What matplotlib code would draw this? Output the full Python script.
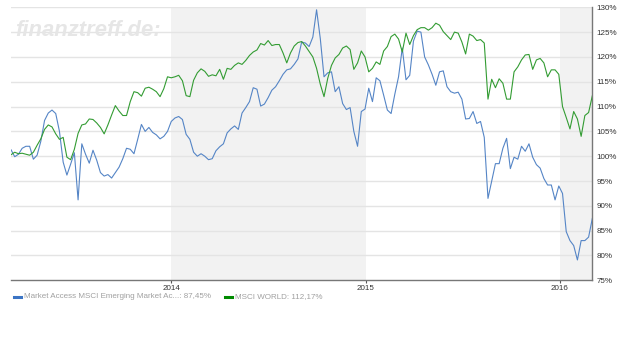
import pandas as pd
import numpy as np
import matplotlib
matplotlib.use("Agg")
import matplotlib.pyplot as plt
from matplotlib.lines import Line2D

# Weekly values in % (start = 100)
start_date = "2013-03-06"

emerging = [
    101.3, 99.9, 100.4, 101.6, 102.0, 102.0, 99.4, 100.2, 103.0, 107.2,
    108.7, 109.3, 108.6, 105.0, 98.8, 96.2, 98.4, 100.7, 91.2, 102.5,
    100.4, 98.6, 101.2, 99.2, 96.7, 96.0, 96.3, 95.6, 96.7, 97.8,
    99.5, 101.6, 101.4, 100.5, 103.4, 106.4, 105.0, 105.8, 104.8, 104.3,
    103.5, 104.0, 105.0, 107.0, 107.7, 108.0, 107.4, 104.4, 103.4, 100.8,
    100.0, 100.5, 100.0, 99.3, 99.5, 101.1, 101.9, 102.5, 104.7, 105.5,
    106.1, 105.4, 108.7, 109.8, 111.0, 113.8, 113.5, 110.1, 110.5, 111.8,
    113.3, 114.0, 115.2, 116.5, 117.4, 117.6, 118.5, 119.6, 123.0, 122.8,
    122.1, 124.0, 129.5, 123.7, 116.0, 116.8, 117.0, 113.0, 114.0, 110.6,
    109.4, 109.8, 105.0, 102.0, 109.0, 109.5, 113.7, 111.0, 115.8, 115.2,
    112.3, 109.3, 108.6, 112.5, 116.0, 121.8, 115.4, 116.3, 123.2, 125.2,
    125.0, 120.0, 118.4, 116.5, 114.3, 117.0, 117.2, 114.0, 113.0, 112.7,
    112.9, 111.5, 107.5, 107.6, 109.0, 106.6, 107.0, 103.8, 91.5, 95.0,
    98.5, 98.5, 101.6, 103.6, 97.5, 99.8, 99.4, 102.0, 101.0, 102.5,
    99.8, 98.3, 97.6, 95.5, 94.2, 94.2, 91.2, 94.0, 92.5, 84.8,
    83.0, 82.0, 79.1, 83.0, 83.0, 83.7, 87.45,
]

world = [
    100.3, 100.8, 100.5, 100.6, 100.4, 100.2, 100.8, 102.2, 103.5, 105.4,
    106.3, 105.9, 104.5, 103.4, 103.8, 99.8, 99.3, 101.4, 104.6, 106.3,
    106.5, 107.5, 107.4, 106.7, 105.8, 104.5, 106.3, 108.3, 110.2, 109.1,
    108.2, 108.2, 111.0, 113.0, 112.8, 112.1, 113.7, 113.9, 113.5, 113.0,
    112.0, 113.6, 116.0, 115.8, 116.0, 116.3, 115.2, 112.2, 112.0, 115.3,
    116.8, 117.6, 117.1, 116.1, 116.4, 116.2, 117.5, 115.5, 117.7, 117.5,
    118.3, 118.8, 118.5, 119.3, 120.3, 121.0, 121.4, 122.7, 122.4, 123.3,
    122.3, 122.5, 122.5, 120.8, 118.8, 120.8, 122.2, 122.9, 123.1, 122.2,
    121.1, 120.0, 117.7, 114.5, 112.0, 115.7, 118.3, 119.8, 120.5, 121.8,
    122.2, 121.5, 117.5, 118.8, 121.2, 120.0, 117.0, 117.7, 119.0, 118.5,
    121.2, 122.1, 124.1, 124.6, 123.6, 121.0, 124.8, 122.5, 124.3, 125.5,
    125.9, 125.9, 125.4, 125.9, 126.8, 126.4, 125.1, 124.3, 123.5, 125.0,
    124.8, 123.0, 120.6, 124.6, 124.2, 123.3, 123.5, 122.8, 111.5, 115.5,
    113.8, 115.6, 114.7, 111.5, 111.5, 117.0, 118.0, 119.4, 120.4, 120.5,
    117.5, 119.4, 119.7, 118.8, 116.0, 117.4, 117.4, 116.5, 110.0, 107.8,
    105.5, 109.0, 107.5, 104.0, 108.2, 108.8, 112.17,
]

label_em = "Market Access MSCI Emerging Market Ac...: 87,45%"
label_world = "MSCI WORLD: 112,17%"
y_ticks = [75, 80, 85, 90, 95, 100, 105, 110, 115, 120, 125, 130]
years = ["2014", "2015", "2016"]

dates = pd.date_range(start_date, periods=len(emerging), freq="7D")

plt.rcParams["font.family"] = ["Liberation Sans", "DejaVu Sans"]

fig = plt.figure(figsize=(6.4, 3.4), dpi=100)
ax = fig.add_axes([0.0172, 0.1756, 0.9083, 0.8029])

# shaded years
ax.axvspan(pd.Timestamp("2014-01-01"), pd.Timestamp("2015-01-01"),
           color="#f2f2f2", lw=0, zorder=0)
ax.axvspan(pd.Timestamp("2016-01-01"), dates[-1],
           color="#f2f2f2", lw=0, zorder=0)

for v in y_ticks[1:]:
    ax.axhline(v, color="#e4e4e4", lw=1.0, zorder=1)

ax.plot(dates, emerging, color="#5585c6", lw=0.8, zorder=3)
ax.plot(dates, world, color="#339c33", lw=0.8, zorder=4)

ax.set_xlim(dates[0], dates[-1])
ax.set_ylim(75, 130)

ax.yaxis.tick_right()
ax.set_yticks(y_ticks)
ax.set_yticklabels([f"{v}%" for v in y_ticks])
ax.tick_params(axis="y", length=0, pad=3, labelsize=5.8, colors="#333333")

ax.set_xticks([pd.Timestamp(y + "-01-01") for y in years])
ax.set_xticklabels(years)
ax.tick_params(axis="x", length=2, width=0.8, pad=1.5, labelsize=5.8,
               colors="#555555", labelcolor="#333333")

for s in ["top", "left"]:
    ax.spines[s].set_visible(False)
ax.spines["bottom"].set_color("#777777")
ax.spines["right"].set_color("#777777")
ax.spines["bottom"].set_linewidth(1.0)
ax.spines["right"].set_linewidth(1.0)

# watermark
ax.text(0.008, 0.955, "finanztreff.de:", transform=ax.transAxes,
        fontsize=15.8, fontweight="bold", fontstyle="italic",
        color="#e6e6e6", ha="left", va="top", zorder=2)

# legend
fig.add_artist(Line2D([14 / 640, 21 / 640], [1 - 297 / 340] * 2,
                      color="#3b74c4", lw=2.2))
fig.text(24 / 640, 1 - 297 / 340, label_em, fontsize=5.8,
         color="#a0a0a0", va="center", ha="left")
fig.add_artist(Line2D([225 / 640, 232 / 640], [1 - 297 / 340] * 2,
                      color="#008a00", lw=2.2))
fig.text(235 / 640, 1 - 297 / 340, label_world, fontsize=5.8,
         color="#a0a0a0", va="center", ha="left")

fig.savefig("out.png", dpi=100)
